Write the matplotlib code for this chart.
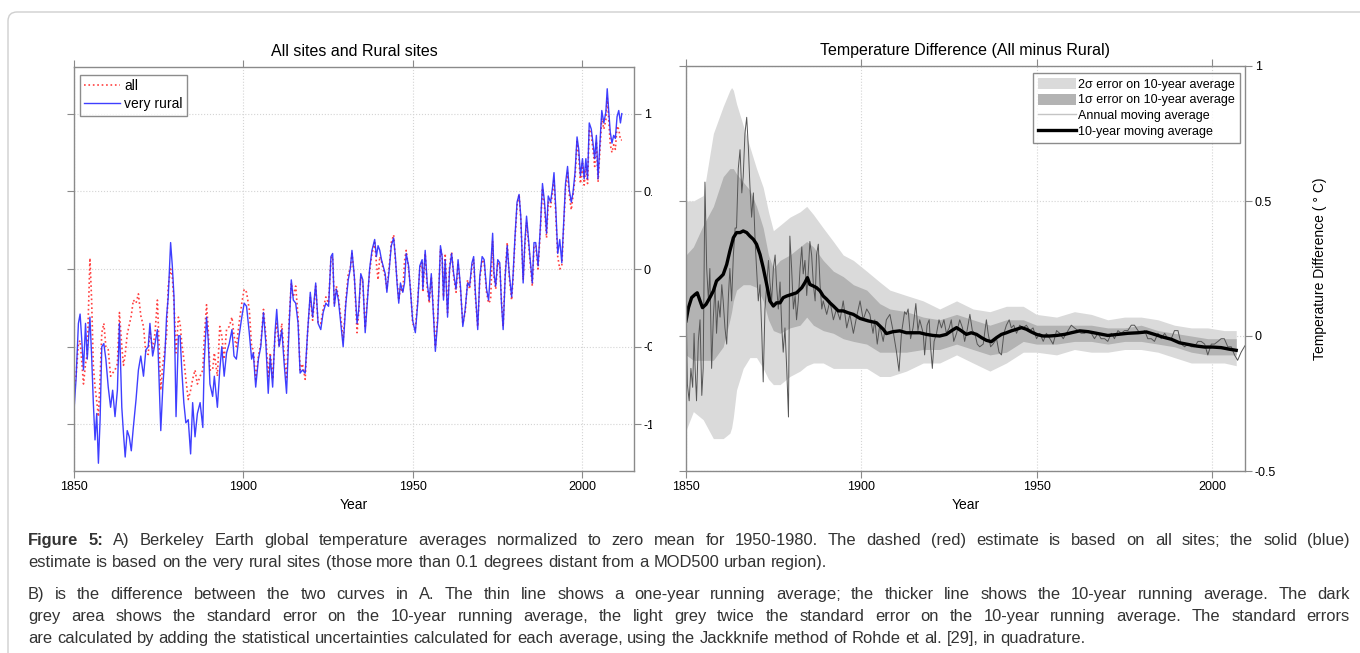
"""Berkeley Earth figure 5: all vs very rural sites, and their difference."""
import numpy as np
import matplotlib
matplotlib.use("Agg")
import matplotlib.pyplot as plt
from matplotlib.patches import Patch, Rectangle, FancyBboxPatch
from matplotlib.lines import Line2D
from matplotlib.transforms import IdentityTransform

plt.rcParams['font.family'] = ['Liberation Sans', 'DejaVu Sans']

# ---- panel A: temperature anomaly (deg C) ----
years_a = [
    1850.0, 1850.6, 1851.3, 1851.8, 1852.3, 1852.8, 1853.4, 1853.9, 1854.7, 1855.2,
    1855.7, 1856.2, 1856.7, 1857.2, 1857.7, 1858.2, 1858.8, 1859.4, 1860.1, 1860.8,
    1861.4, 1862.1, 1862.8, 1863.4, 1864.1, 1864.6, 1865.1, 1865.7, 1866.3, 1866.9,
    1867.5, 1868.3, 1869.0, 1869.7, 1870.5, 1871.2, 1871.9, 1872.4, 1873.2, 1873.9,
    1874.6, 1875.2, 1875.6, 1876.2, 1876.8, 1877.3, 1877.8, 1878.5, 1879.0, 1879.5,
    1880.1, 1880.8, 1881.3, 1881.8, 1882.4, 1883.0, 1883.7, 1884.4, 1885.0, 1885.7,
    1886.4, 1887.2, 1888.0, 1888.4, 1889.1, 1889.6,
    1890.1, 1890.9, 1891.4, 1892.3, 1893.0, 1893.6, 1894.3, 1895.0, 1895.8, 1896.6,
    1897.2, 1897.9, 1898.7, 1899.5, 1900.2, 1900.9, 1901.7, 1902.4, 1902.9, 1903.6,
    1904.4, 1905.1, 1905.9, 1906.6, 1907.3, 1907.9, 1908.6, 1909.3, 1909.8, 1910.5,
    1911.3, 1912.0, 1912.7, 1913.5, 1914.1, 1914.7, 1915.4, 1916.1, 1916.7, 1917.4,
    1918.2, 1918.9, 1919.7, 1920.4, 1921.3, 1922.0, 1922.8, 1923.5, 1924.3, 1925.1,
    1925.8, 1926.3, 1926.8, 1927.4, 1928.0, 1928.7, 1929.4, 1930.2, 1930.9,
    1931.5, 1932.0, 1932.7, 1933.5, 1934.0, 1934.6, 1935.2, 1935.9, 1936.5, 1937.2,
    1937.9, 1938.7, 1939.2, 1939.7, 1940.2, 1940.7, 1941.2, 1941.8, 1942.3, 1943.0,
    1943.6, 1944.3, 1944.8, 1945.3, 1945.8, 1946.3, 1947.0, 1947.5, 1948.0, 1948.7,
    1949.3, 1949.9, 1950.7, 1951.4, 1952.0, 1952.7, 1952.9, 1953.6, 1954.2, 1954.8,
    1955.4, 1955.9, 1956.6, 1957.3, 1958.1, 1958.6, 1959.0, 1959.5, 1960.2, 1960.8,
    1961.4, 1962.0, 1962.7, 1963.3, 1964.0, 1964.7, 1965.4, 1966.1, 1966.7, 1967.4,
    1967.9, 1968.4, 1969.1, 1969.7, 1970.4, 1971.0,
    1971.7, 1972.3, 1972.9, 1973.5, 1973.9, 1974.4, 1975.0, 1975.6, 1976.1, 1976.6,
    1977.2, 1977.8, 1978.4, 1979.1, 1979.5, 1980.1, 1980.7, 1981.3, 1981.8, 1982.5,
    1983.0, 1983.5, 1984.0, 1984.5, 1985.2, 1985.7, 1986.2, 1986.9, 1987.6, 1988.2,
    1988.8, 1989.4, 1989.9, 1990.6, 1991.2, 1991.6, 1992.1, 1992.7, 1993.3, 1993.9,
    1994.5, 1995.0, 1995.6, 1996.1, 1996.7, 1997.2, 1997.8, 1998.4, 1998.9, 1999.4,
    2000.0, 2000.5, 2001.0, 2001.5, 2002.0, 2002.6, 2003.1, 2003.6, 2004.1, 2004.6,
    2005.1, 2005.7, 2006.3, 2006.9, 2007.3, 2007.7, 2008.2, 2008.7, 2009.2, 2009.7,
    2010.2, 2010.7, 2011.2, 2011.6,
]
rural = [
    -0.91, -0.71, -0.35, -0.29, -0.46, -0.65, -0.35, -0.58, -0.31, -0.56,
    -0.86, -1.10, -0.93, -1.25, -0.97, -0.50, -0.48, -0.58, -0.76, -0.89,
    -0.78, -0.95, -0.78, -0.35, -0.89, -1.06, -1.21, -1.04, -1.08, -1.17,
    -1.02, -0.84, -0.65, -0.56, -0.69, -0.52, -0.50, -0.35, -0.56, -0.48,
    -0.39, -0.78, -1.04, -0.76, -0.56, -0.31, -0.18, 0.17, 0.02, -0.18,
    -0.95, -0.43, -0.43, -0.65, -0.86, -0.99, -0.97, -1.19, -0.86, -1.08,
    -0.93, -0.86, -1.02, -0.61, -0.31, -0.46,
    -0.74, -0.82, -0.69, -0.89, -0.65, -0.50, -0.69, -0.54, -0.48, -0.39,
    -0.56, -0.58, -0.43, -0.31, -0.22, -0.24, -0.41, -0.58, -0.54, -0.76,
    -0.58, -0.50, -0.28, -0.48, -0.80, -0.56, -0.76, -0.41, -0.26, -0.50,
    -0.39, -0.61, -0.80, -0.35, -0.07, -0.20, -0.22, -0.35, -0.67, -0.65,
    -0.67, -0.41, -0.15, -0.31, -0.09, -0.35, -0.39, -0.28, -0.22, -0.24,
    0.08, 0.10, -0.24, -0.13, -0.20, -0.35, -0.50, -0.22, -0.07,
    0.00, 0.12, -0.05, -0.35, -0.26, -0.03, -0.07, -0.41, -0.22, 0.00,
    0.12, 0.19, 0.08, 0.15, 0.12, 0.06, 0.02, -0.03, -0.15, 0.00,
    0.15, 0.20, 0.08, -0.09, -0.22, -0.09, -0.15, -0.09, 0.10, 0.02,
    -0.15, -0.33, -0.41, -0.22, 0.02, 0.06, -0.13, 0.12, -0.09, -0.20,
    -0.03, -0.24, -0.53, -0.33, 0.15, 0.08, -0.20, 0.06, -0.31, 0.00,
    0.10, -0.03, -0.13, 0.06, -0.11, -0.37, -0.26, -0.09, -0.11, 0.04,
    0.08, -0.15, -0.39, -0.05, 0.08, 0.06,
    -0.13, -0.20, 0.00, 0.23, -0.03, -0.11, 0.06, 0.04, -0.22, -0.39,
    -0.05, 0.15, -0.03, -0.18, -0.05, 0.21, 0.43, 0.48, 0.34, -0.09,
    0.17, 0.34, 0.21, 0.08, -0.09, 0.17, 0.17, 0.02, 0.28, 0.55,
    0.43, 0.23, 0.47, 0.43, 0.53, 0.62, 0.40, 0.10, 0.19, 0.04,
    0.32, 0.55, 0.66, 0.51, 0.43, 0.49, 0.62, 0.85, 0.77, 0.60,
    0.71, 0.58, 0.71, 0.58, 0.94, 0.90, 0.81, 0.71, 0.86, 0.58,
    0.79, 1.02, 0.94, 1.01, 1.16, 1.03, 0.88, 0.81, 0.86, 0.84,
    0.98, 1.02, 0.94, 1.00,
]
allsites = [
    -0.78, -0.69, -0.48, -0.46, -0.60, -0.74, -0.61, -0.55, 0.07, -0.20,
    -0.62, -0.76, -0.85, -0.95, -0.70, -0.41, -0.35, -0.50, -0.52, -0.69,
    -0.67, -0.65, -0.61, -0.28, -0.50, -0.62, -0.55, -0.42, -0.36, -0.30,
    -0.20, -0.22, -0.16, -0.30, -0.37, -0.54, -0.55, -0.40, -0.52, -0.41,
    -0.20, -0.55, -0.78, -0.61, -0.52, -0.43, -0.11, 0.00, -0.05, -0.22,
    -0.54, -0.31, -0.35, -0.48, -0.58, -0.71, -0.84, -0.78, -0.71, -0.65,
    -0.74, -0.69, -0.65, -0.45, -0.23, -0.39,
    -0.65, -0.65, -0.54, -0.69, -0.37, -0.43, -0.58, -0.39, -0.37, -0.31,
    -0.43, -0.50, -0.35, -0.22, -0.13, -0.15, -0.26, -0.50, -0.52, -0.71,
    -0.56, -0.48, -0.26, -0.43, -0.69, -0.54, -0.71, -0.43, -0.35, -0.50,
    -0.35, -0.56, -0.71, -0.31, -0.09, -0.18, -0.11, -0.31, -0.65, -0.61,
    -0.71, -0.41, -0.18, -0.33, -0.11, -0.35, -0.35, -0.26, -0.18, -0.22,
    0.07, 0.08, -0.22, -0.11, -0.18, -0.31, -0.46, -0.20, -0.03,
    0.00, 0.10, -0.05, -0.41, -0.28, -0.05, -0.09, -0.38, -0.20, -0.02,
    0.10, 0.17, 0.04, -0.07, 0.08, 0.05, 0.00, -0.05, -0.13, 0.02,
    0.17, 0.22, 0.06, -0.07, -0.20, -0.12, -0.15, 0.05, 0.12, 0.00,
    -0.13, -0.35, -0.38, -0.20, 0.00, 0.04, -0.15, 0.10, -0.12, -0.22,
    -0.05, -0.22, -0.50, -0.30, 0.13, 0.08, -0.18, 0.10, -0.28, 0.02,
    0.11, -0.05, -0.15, 0.04, -0.13, -0.35, -0.28, -0.07, -0.13, 0.02,
    0.06, -0.18, -0.37, -0.07, 0.06, 0.04,
    -0.15, -0.22, -0.20, 0.18, -0.05, -0.13, 0.04, 0.02, -0.20, -0.37,
    -0.03, 0.17, -0.05, -0.20, -0.07, 0.19, 0.41, 0.48, 0.32, -0.07,
    0.15, 0.30, 0.19, 0.06, -0.11, 0.15, 0.15, 0.00, 0.26, 0.52,
    0.40, 0.20, 0.43, 0.40, 0.50, 0.58, 0.36, 0.08, 0.00, 0.02,
    0.30, 0.52, 0.62, 0.48, 0.38, 0.47, 0.58, 0.82, 0.73, 0.55,
    0.68, 0.54, 0.66, 0.55, 0.90, 0.86, 0.77, 0.66, 0.82, 0.56,
    0.75, 0.97, 0.90, 0.96, 1.10, 0.98, 0.80, 0.75, 0.80, 0.77,
    0.92, 0.90, 0.83, 0.83,
]

# ---- panel B: all minus rural ----
years_annual = [
    1850.0, 1850.4, 1850.9, 1851.4, 1851.9, 1852.3, 1852.6, 1853.0, 1853.5, 1854.0,
    1854.5, 1854.9, 1855.4, 1855.9, 1856.4, 1856.8, 1857.3, 1857.8, 1858.3, 1858.7,
    1859.2, 1859.7, 1860.2, 1860.6, 1861.1, 1861.6, 1862.1, 1862.5, 1863.0, 1863.5,
    1864.0, 1864.4, 1864.9, 1865.4, 1865.9, 1866.3, 1866.8, 1867.3, 1867.8, 1868.2,
    1868.7, 1869.2, 1869.7, 1870.1, 1870.6, 1871.1, 1871.6, 1872.0, 1872.5, 1873.0,
    1873.5, 1873.9, 1874.4, 1874.9, 1875.4, 1875.8, 1876.3, 1876.8, 1877.3, 1877.7,
    1878.2, 1878.7, 1879.2, 1879.6, 1880.1, 1880.6, 1881.1, 1881.5, 1882.0, 1882.5,
    1883.0, 1883.4, 1883.9, 1884.4, 1884.9, 1885.3, 1885.8, 1886.3, 1886.8, 1887.2,
    1887.7, 1888.2, 1888.7, 1889.1, 1890.1, 1891.0, 1892.0, 1892.9, 1893.9, 1894.8,
    1895.8, 1896.7, 1897.7, 1898.6, 1899.6, 1900.5, 1901.5,
    1902.4, 1903.3, 1903.8, 1904.5, 1905.2, 1906.2, 1907.1, 1908.1, 1909.0, 1910.0,
    1910.7, 1911.4, 1912.3, 1912.8, 1913.3, 1914.0, 1914.7, 1915.5, 1916.1, 1916.6,
    1917.6, 1918.0, 1918.7, 1919.3, 1919.7, 1920.2, 1920.7, 1921.4, 1922.1, 1922.8,
    1923.5, 1924.2, 1925.0, 1925.6, 1926.3, 1927.1, 1928.0, 1928.8, 1929.4, 1930.1,
    1930.9, 1931.6, 1932.3, 1933.0, 1933.7, 1934.7, 1935.6, 1936.1, 1936.8, 1937.5,
    1938.5, 1939.2, 1939.9, 1940.6, 1941.3, 1942.1, 1942.7, 1943.4, 1944.2, 1945.1,
    1946.1, 1947.0, 1948.0, 1948.9, 1949.9, 1950.8, 1951.8, 1952.7, 1953.7, 1954.6,
    1955.6, 1956.5, 1957.5, 1958.4,
    1959.8, 1960.7, 1961.7, 1962.6, 1963.6, 1964.5, 1965.5, 1966.4, 1967.4, 1968.3,
    1969.3, 1970.2, 1971.2, 1972.1, 1973.1, 1974.0, 1975.0, 1975.9, 1976.9, 1977.8,
    1978.8, 1979.7, 1980.7, 1981.6, 1982.6, 1983.5, 1984.5, 1985.4, 1986.4, 1987.3,
    1988.3, 1989.2, 1990.2, 1991.1, 1992.1, 1993.0, 1994.0, 1994.9, 1995.9, 1996.8,
    1997.8, 1998.7, 1999.7, 2000.6, 2001.6, 2002.5, 2003.4, 2004.4, 2005.4, 2006.3,
    2007.2, 2008.2, 2009.1, 2009.6,
]
annual_diff = [
    0.13, -0.18, -0.24, -0.12, -0.19, 0.01, -0.12, -0.24, -0.02, 0.06,
    -0.22, -0.12, 0.57, 0.25, 0.13, 0.25, -0.12, 0.07, 0.19, 0.01,
    0.13, 0.07, 0.19, 0.13, 0.03, -0.03, 0.15, 0.25, 0.13, 0.30,
    0.40, 0.40, 0.62, 0.69, 0.53, 0.59, 0.75, 0.81, 0.69, 0.56,
    0.44, 0.53, 0.35, 0.25, 0.13, 0.19, 0.01, -0.17, 0.10, 0.19,
    0.28, 0.20, 0.13, 0.25, 0.30, 0.19, 0.10, 0.20, 0.03, -0.06,
    0.03, -0.12, -0.30, 0.37, 0.25, 0.10, 0.15, 0.06, 0.13, 0.25,
    0.33, 0.23, 0.28, 0.15, 0.25, 0.35, 0.30, 0.19, 0.13, 0.30,
    0.34, 0.19, 0.10, 0.13, 0.08, 0.13, 0.06, 0.10, 0.06, 0.13,
    0.03, 0.08, 0.01, 0.07, 0.13, 0.06, 0.10,
    0.08, 0.01, 0.06, -0.03, 0.04, -0.02, 0.06, 0.08, 0.02, -0.06,
    -0.13, 0.01, 0.09, 0.08, 0.10, -0.01, 0.03, 0.12, 0.02, 0.06,
    0.01, -0.07, 0.04, 0.06, -0.04, -0.12, -0.02, 0.01, 0.06, 0.03,
    0.06, 0.01, 0.03, 0.06, -0.02, 0.01, 0.06, 0.03, -0.02, 0.02,
    0.08, 0.02, 0.01, -0.03, -0.04, -0.03, 0.06, 0.01, -0.04, -0.03,
    -0.01, -0.06, -0.07, 0.01, 0.04, 0.06, 0.03, 0.04, 0.01, 0.04,
    0.03, 0.04, 0.02, 0.03, -0.01, 0.01, -0.02, 0.01, -0.01, -0.03,
    0.02, 0.01, -0.01, 0.01,
    0.04, 0.03, 0.02, 0.01, 0.01, 0.02, 0.01, -0.01, 0.01, -0.01,
    -0.01, -0.02, 0.01, -0.01, 0.02, 0.01, 0.02, 0.02, 0.04, 0.04,
    0.02, 0.01, 0.02, -0.01, -0.01, -0.02, 0.01, -0.01, 0.01, -0.01,
    -0.01, 0.02, 0.02, -0.03, -0.04, -0.03, -0.04, -0.04, -0.02, -0.02,
    -0.03, -0.07, -0.03, -0.03, -0.02, -0.01, -0.01, -0.04, -0.04, -0.07,
    -0.09, -0.06, -0.04, -0.03,
]
years_10yr = [
    1850.0, 1850.7, 1851.6, 1852.6, 1853.2, 1854.0, 1854.7, 1855.7, 1856.8, 1857.8,
    1858.7, 1859.7, 1860.6, 1861.6, 1862.5, 1863.5, 1864.4, 1865.4, 1866.3, 1867.3,
    1868.2, 1869.2, 1870.1, 1871.1, 1872.0, 1873.0, 1873.9, 1874.9, 1875.8, 1876.8,
    1877.7, 1878.7, 1880.1, 1881.5, 1883.0, 1883.9, 1884.6, 1885.3, 1886.3, 1887.2,
    1888.2, 1889.1, 1890.1, 1891.0, 1892.0, 1893.4, 1894.8, 1896.2, 1897.7, 1899.6,
    1901.9, 1904.3, 1906.2, 1907.1, 1909.0, 1910.9, 1912.8, 1914.7, 1916.6, 1918.5,
    1920.4, 1922.3, 1924.2, 1925.6, 1927.1, 1928.5, 1929.9, 1931.3, 1932.8, 1934.2,
    1935.6, 1937.0, 1938.5, 1939.9, 1941.3, 1942.7, 1944.2, 1945.6, 1947.0, 1948.4,
    1949.9, 1951.7, 1953.6, 1955.6, 1957.9, 1959.8, 1962.2, 1964.6, 1967.4, 1970.2,
    1973.1, 1975.9, 1978.8, 1981.2, 1983.5, 1985.9, 1988.3, 1990.6, 1993.0, 1995.4,
    1997.8, 2000.1, 2002.5, 2004.9, 2006.8,
]
tenyr_diff = [
    0.056, 0.105, 0.142, 0.154, 0.160, 0.130, 0.105, 0.117, 0.142, 0.167,
    0.204, 0.216, 0.228, 0.265, 0.315, 0.364, 0.383, 0.383, 0.389, 0.383,
    0.370, 0.358, 0.340, 0.302, 0.253, 0.191, 0.130, 0.111, 0.123, 0.123,
    0.142, 0.148, 0.154, 0.160, 0.179, 0.198, 0.216, 0.191, 0.185, 0.179,
    0.167, 0.148, 0.136, 0.123, 0.111, 0.093, 0.093, 0.086, 0.080, 0.065,
    0.056, 0.049, 0.025, 0.009, 0.016, 0.019, 0.012, 0.012, 0.012, 0.006,
    0.002, 0.000, 0.006, 0.019, 0.031, 0.019, 0.006, 0.012, 0.006, -0.006,
    -0.016, -0.021, -0.006, 0.006, 0.012, 0.019, 0.025, 0.031, 0.025, 0.015,
    0.006, 0.000, 0.000, 0.002, 0.006, 0.012, 0.019, 0.016, 0.009, 0.002,
    0.006, 0.010, 0.012, 0.015, 0.006, -0.004, -0.012, -0.025, -0.031, -0.037,
    -0.041, -0.041, -0.043, -0.049, -0.053,
]
years_band = [
    1850.0, 1852.1, 1854.9, 1857.8, 1860.6, 1862.5, 1863.0, 1863.5, 1864.4, 1866.3,
    1868.2, 1870.1, 1872.0, 1873.5, 1874.9, 1876.8, 1879.6, 1882.5, 1884.4, 1886.3,
    1889.1, 1892.0, 1894.8, 1897.7, 1901.5, 1905.2, 1908.1, 1912.8, 1917.6, 1922.3,
    1927.1, 1931.8, 1936.6, 1941.3, 1946.1, 1949.9, 1955.6, 1960.7, 1965.5, 1970.2,
    1975.0, 1979.7, 1984.5, 1989.2, 1994.0, 1998.7, 2003.4, 2006.8,
]
band2_hi = [
    0.50, 0.50, 0.52, 0.75, 0.85, 0.91, 0.92, 0.91, 0.86, 0.78,
    0.70, 0.62, 0.55, 0.46, 0.39, 0.41, 0.44, 0.46, 0.48, 0.45,
    0.40, 0.35, 0.30, 0.28, 0.24, 0.20, 0.17, 0.15, 0.13, 0.10,
    0.13, 0.10, 0.09, 0.11, 0.11, 0.08, 0.07, 0.09, 0.08, 0.06,
    0.07, 0.07, 0.06, 0.04, 0.03, 0.03, 0.02, 0.02,
]
band2_lo = [
    -0.35, -0.28, -0.31, -0.38, -0.38, -0.36, -0.34, -0.30, -0.20, -0.12,
    -0.08, -0.08, -0.12, -0.16, -0.18, -0.18, -0.15, -0.13, -0.11, -0.10,
    -0.10, -0.12, -0.12, -0.12, -0.12, -0.15, -0.15, -0.13, -0.10, -0.10,
    -0.07, -0.10, -0.13, -0.10, -0.06, -0.06, -0.07, -0.05, -0.06, -0.06,
    -0.05, -0.05, -0.06, -0.08, -0.10, -0.10, -0.10, -0.11,
]
band1_hi = [
    0.30, 0.33, 0.41, 0.48, 0.59, 0.62, 0.62, 0.62, 0.60, 0.57,
    0.54, 0.48, 0.40, 0.30, 0.25, 0.28, 0.30, 0.33, 0.35, 0.33,
    0.28, 0.24, 0.22, 0.19, 0.17, 0.12, 0.10, 0.09, 0.07, 0.06,
    0.08, 0.06, 0.04, 0.06, 0.06, 0.04, 0.04, 0.04, 0.04, 0.03,
    0.03, 0.04, 0.02, 0.01, 0.00, -0.01, -0.01, -0.01,
]
band1_lo = [
    -0.07, -0.09, -0.09, -0.09, -0.04, 0.06, 0.09, 0.13, 0.17, 0.19,
    0.19, 0.18, 0.13, 0.06, 0.02, 0.01, 0.03, 0.04, 0.07, 0.04,
    0.02, 0.01, -0.01, -0.02, -0.03, -0.06, -0.06, -0.06, -0.05, -0.05,
    -0.03, -0.05, -0.07, -0.06, -0.02, -0.03, -0.03, -0.02, -0.02, -0.03,
    -0.02, -0.02, -0.03, -0.04, -0.06, -0.07, -0.07, -0.07,
]

# caption: (text, justified to full width?)
caption_lines = [
    ("Figure 5: A) Berkeley Earth global temperature averages normalized to zero mean for 1950-1980. "
     "The dashed (red) estimate is based on all sites; the solid (blue)", True),
    ("estimate is based on the very rural sites (those more than 0.1 degrees distant from a MOD500 urban region).", False),
    ("B) is the difference between the two curves in A. The thin line shows a one-year running average; "
     "the thicker line shows the 10-year running average. The dark", True),
    ("grey area shows the standard error on the 10-year running average, the light grey twice the standard "
     "error on the 10-year running average. The standard errors", True),
    ("are calculated by adding the statistical uncertainties calculated for each average, using the "
     "Jackknife method of Rohde et al. [29], in quadrature.", False),
]

W, H = 1360, 653
SPINE = "#8a8a8a"


def px_axes(x0, y0, x1, y1):
    # pixel box (top-left origin) -> figure fraction rect
    return [x0 / W, 1 - y1 / H, (x1 - x0) / W, (y1 - y0) / H]


def style(ax):
    for s in ax.spines.values():
        s.set_color(SPINE)
        s.set_linewidth(1.0)
    ax.tick_params(direction="out", length=5, width=0.8, color=SPINE,
                   top=True, right=True, left=True, bottom=True,
                   labelleft=False, labelright=True, labelsize=9, pad=2)
    ax.grid(True, ls=":", color="#d4d4d4", lw=0.8)
    ax.set_axisbelow(True)


def caption_line(fig, renderer, text, y, justify, x0=28, x1=1350):
    cap = dict(fontsize=11.9, color="#333333", va="baseline")
    words = text.split(" ")
    bold = 2 if text.startswith("Figure 5:") else 0
    texts = [fig.text(0, 1 - y / H, w, fontweight="bold" if i < bold else "normal", **cap)
             for i, w in enumerate(words)]
    widths = [t.get_window_extent(renderer).width for t in texts]
    probe1 = fig.text(0, 0, "a a", **cap)
    probe2 = fig.text(0, 0, "aa", **cap)
    gap = probe1.get_window_extent(renderer).width - probe2.get_window_extent(renderer).width
    probe1.remove()
    probe2.remove()
    if justify:
        gap = (x1 - x0 - sum(widths)) / (len(words) - 1)
    x = x0
    for t, w in zip(texts, widths):
        t.set_x(x / W)
        x += w + gap


def main():
    fig = plt.figure(figsize=(W / 100, H / 100), dpi=100)
    renderer = fig.canvas.get_renderer()

    # page frame
    frame = FancyBboxPatch((8, -30), 1420, H - 12 + 30, boxstyle="round,pad=0,rounding_size=9",
                           transform=IdentityTransform(), fc="none", ec="#cfcfcf", lw=1.0)
    fig.add_artist(frame)

    # ---- A ----
    ax1 = fig.add_axes(px_axes(74, 67, 634, 471))
    ax1.set_zorder(0)
    ax1.plot(years_a, allsites, color="#ff4040", ls=":", lw=1.2, label="all")
    ax1.plot(years_a, rural, color="#2a2aff", lw=1.0, alpha=0.9, label="very rural")
    ax1.set_xlim(1850, 2015.2)
    ax1.set_ylim(-1.3, 1.3)
    ax1.set_xticks([1850, 1900, 1950, 2000])
    ax1.set_yticks([-1, -0.5, 0, 0.5, 1])
    ax1.set_yticklabels(["-1", "-0.5", "0", "0.5", "1"])
    style(ax1)
    ax1.set_title("All sites and Rural sites", fontsize=11.5, pad=8)
    ax1.set_xlabel("Year", fontsize=10, labelpad=4)
    ax1.legend(loc="upper left", bbox_to_anchor=(6 / 560, 1 - 8 / 404), borderaxespad=0,
               fontsize=10, frameon=True, fancybox=False, edgecolor="#707070",
               handlelength=2.6, handletextpad=0.3, labelspacing=0.3, borderpad=0.3)

    # the right panel hides the ends of panel A's tick labels
    fig.add_artist(Rectangle((652 / W, 0.2), 32 / W, 0.7, transform=fig.transFigure,
                             fc="white", ec="none", zorder=1))

    # ---- B ----
    ax2 = fig.add_axes(px_axes(686, 66, 1245, 471))
    ax2.set_zorder(2)
    ax2.fill_between(years_band, band2_lo, band2_hi, color="#dadada", lw=0)
    ax2.fill_between(years_band, band1_lo, band1_hi, color="#b3b3b3", lw=0)
    ax2.plot(years_annual, annual_diff, color="#555555", lw=0.7)
    ax2.plot(years_10yr, tenyr_diff, color="black", lw=2.4)
    ax2.set_xlim(1850, 2009.3)
    ax2.set_ylim(-0.5, 1)
    ax2.set_xticks([1850, 1900, 1950, 2000])
    ax2.set_yticks([-0.5, 0, 0.5, 1])
    ax2.set_yticklabels(["-0.5", "0", "0.5", "1"])
    style(ax2)
    ax2.set_title("Temperature Difference (All minus Rural)", fontsize=11.5, pad=8)
    ax2.set_xlabel("Year", fontsize=10, labelpad=4)
    ax2.yaxis.set_label_position("right")
    ax2.set_ylabel("Temperature Difference ( \u00b0 C)", fontsize=10, labelpad=27)
    handles = [Patch(fc="#dadada", ec="none"), Patch(fc="#b3b3b3", ec="none"),
               Line2D([], [], color="#c4c4c4", lw=1.0), Line2D([], [], color="black", lw=2.4)]
    labels = ["2\u03c3 error on 10-year average", "1\u03c3 error on 10-year average",
              "Annual moving average", "10-year moving average"]
    ax2.legend(handles, labels, loc="upper right", bbox_to_anchor=(1 - 5 / 559, 1 - 7 / 405),
               borderaxespad=0, fontsize=9, frameon=True, fancybox=False, edgecolor="#707070",
               handlelength=3.0, handleheight=1.0, handletextpad=0.2, labelspacing=0.22,
               borderpad=0.4)

    # ---- caption ----
    for (line, just), y in zip(caption_lines, [545, 567, 599, 621, 643]):
        caption_line(fig, renderer, line, y, just)

    fig.savefig("out.png", dpi=100)


if __name__ == "__main__":
    main()
